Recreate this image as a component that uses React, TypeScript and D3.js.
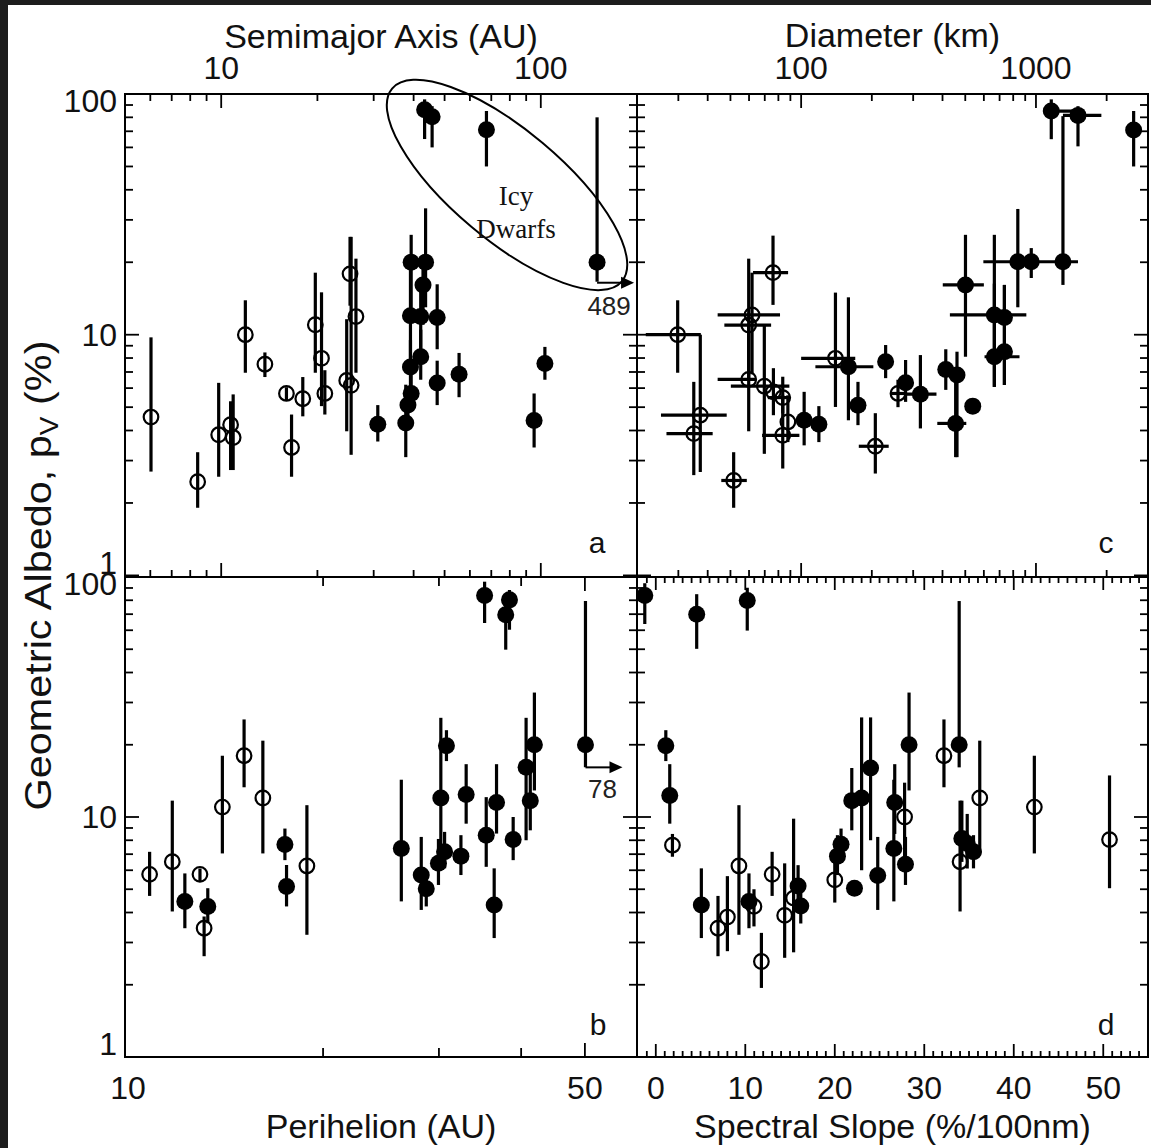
import React, { useEffect } from 'react';
import * as d3 from 'd3';

// ---------- DATA ----------
// Panel a: [semimajor axis (AU), pV (%), pV low, pV high, open(1)/filled(0)]
const panelA: number[][] = [
  [6.03, 4.55, 2.7, 9.75, 1],
  [8.44, 2.45, 1.91, 3.25, 1],
  [9.82, 3.84, 2.57, 6.31, 1],
  [10.7, 4.23, 2.74, 5.29, 1],
  [10.9, 3.74, 2.74, 5.65, 1],
  [11.9, 10.0, 6.95, 13.9, 1],
  [13.7, 7.54, 6.67, 8.44, 1],
  [16.0, 5.7, 5.35, 6.05, 1],
  [16.6, 3.4, 2.57, 4.66, 1],
  [18.0, 5.42, 4.58, 6.67, 1],
  [19.7, 11.0, 6.95, 18.1, 1],
  [20.6, 7.98, 5.05, 15.0, 1],
  [21.1, 5.7, 4.66, 7.12, 1],
  [24.7, 6.46, 3.97, 11.6, 1],
  [25.5, 6.16, 3.17, 25.5, 1],
  [25.3, 17.9, 13.2, 25.5, 1],
  [26.4, 11.9, 6.95, 20.7, 1],
  [30.9, 4.25, 3.6, 5.1, 0],
  [37.8, 4.3, 3.1, 6.2, 0],
  [38.4, 5.1, 4.3, 6.0, 0],
  [39.3, 5.7, 4.8, 7.0, 0],
  [39.1, 7.35, 5.5, 9.5, 0],
  [42.1, 8.1, 6.5, 10.5, 0],
  [39.1, 12.0, 7.5, 20.0, 0],
  [42.1, 11.9, 8.0, 16.5, 0],
  [47.4, 11.8, 8.7, 16.2, 0],
  [39.3, 20.0, 12.0, 26.0, 0],
  [43.6, 20.0, 13.0, 33.5, 0],
  [42.8, 16.1, 11.0, 20.0, 0],
  [47.4, 6.3, 5.1, 7.8, 0],
  [55.5, 6.85, 5.5, 8.4, 0],
  [43.3, 86, 65, 95, 0],
  [45.7, 80.5, 60, 89, 0],
  [67.6, 71, 50, 85, 0],
  [95.3, 4.4, 3.4, 5.7, 0],
  [103, 7.6, 6.5, 8.9, 0],
  [150, 20, 16.6, 80, 0],
];

// Panel b: [perihelion (AU), pV, low, high, open]
const panelB: number[][] = [
  [10.9, 5.77, 4.69, 7.16, 1],
  [11.8, 6.51, 4.04, 11.7, 1],
  [12.33, 4.45, 3.44, 5.82, 0],
  [13.0, 5.77, 5.4, 6.1, 1],
  [13.36, 4.24, 3.61, 5.05, 0],
  [13.19, 3.44, 2.63, 3.85, 1],
  [14.06, 11.0, 7.05, 18.0, 1],
  [15.17, 18.0, 13.3, 25.5, 1],
  [16.2, 12.0, 7.05, 20.8, 1],
  [17.5, 7.68, 6.61, 8.95, 0],
  [17.6, 5.13, 4.24, 6.31, 0],
  [18.9, 6.25, 3.23, 11.2, 1],
  [26.3, 7.39, 4.45, 14.3, 0],
  [28.2, 5.73, 4.1, 8.26, 0],
  [28.7, 5.02, 4.24, 5.73, 0],
  [29.95, 6.41, 5.21, 8.1, 0],
  [30.2, 12.0, 7.0, 25.9, 0],
  [30.8, 19.8, 17.1, 23.0, 0],
  [30.6, 7.16, 6.11, 8.67, 0],
  [32.4, 6.87, 5.73, 8.4, 0],
  [33.0, 12.4, 9.38, 16.6, 0],
  [35.2, 83.7, 64.3, 95.6, 0],
  [35.4, 8.4, 6.2, 12.1, 0],
  [36.4, 4.3, 3.13, 6.11, 0],
  [36.7, 11.5, 8.53, 16.6, 0],
  [37.9, 69.6, 49.8, 76.5, 0],
  [38.4, 80.3, 60.3, 88.3, 0],
  [38.9, 8.05, 6.61, 10.0, 0],
  [40.7, 16.1, 8.0, 25.9, 0],
  [41.3, 11.7, 8.8, 15.6, 0],
  [41.9, 20.0, 12.9, 33.0, 0],
  [50.1, 20.0, 16.1, 79.4, 0],
];

// Panel c: [diameter (km), D low, D high, pV, pV low, pV high, open]
const panelC: number[][] = [
  [29.8, 21.8, 37.4, 10.0, 6.95, 13.9, 1],
  [37.2, 25.3, 48.2, 4.63, 2.69, 10.0, 1],
  [34.9, 26.7, 42.0, 3.88, 2.61, 6.37, 1],
  [51.6, 45.7, 58.7, 2.48, 1.91, 3.25, 1],
  [75.9, 62.4, 88.0, 18.1, 13.3, 25.8, 1],
  [61.8, 44.1, 81.3, 12.08, 6.85, 18.1, 1],
  [59.8, 47.1, 74.5, 10.97, 6.5, 20.7, 1],
  [59.8, 44.1, 64.3, 6.52, 3.97, 11.0, 1],
  [69.7, 50.2, 89.1, 6.11, 3.2, 11.0, 1],
  [76.2, 76.2, 76.2, 5.79, 4.63, 7.26, 1],
  [83.5, 72.1, 89.1, 5.48, 4.71, 6.69, 1],
  [87.8, 87.8, 87.8, 4.34, 3.58, 5.6, 1],
  [83.5, 68.2, 98.3, 3.82, 2.78, 5.6, 1],
  [140, 100, 170, 7.98, 5.01, 14.96, 1],
  [207, 176, 236, 3.44, 2.65, 4.72, 1],
  [258.5, 240, 275, 5.7, 5.0, 6.5, 1],
  [103, 103, 103, 4.41, 3.47, 5.79, 0],
  [119, 119, 119, 4.25, 3.58, 5.05, 0],
  [159, 115, 203, 7.36, 4.41, 14.3, 0],
  [174.6, 174.6, 174.6, 5.09, 4.21, 6.37, 0],
  [229, 229, 229, 7.72, 6.6, 9.06, 0],
  [278.5, 278.5, 278.5, 6.31, 5.26, 7.85, 0],
  [322, 276, 377, 5.66, 4.08, 8.23, 0],
  [413, 413, 413, 7.17, 5.9, 8.7, 0],
  [461, 461, 461, 6.8, 3.1, 8.5, 0],
  [455, 380, 505, 4.28, 3.1, 6.8, 0],
  [501, 401, 600, 16.1, 8.1, 26.0, 0],
  [538, 538, 538, 5.05, 5.05, 5.05, 0],
  [665, 430, 910, 12.08, 6.07, 26.0, 0],
  [734, 734, 734, 11.8, 6.18, 16.1, 0],
  [665, 604, 851, 8.1, 6.07, 16.3, 0],
  [734, 734, 734, 8.5, 6.18, 16.1, 0],
  [837, 837, 837, 20.1, 13.0, 33.3, 0],
  [955, 955, 955, 20.1, 17.2, 22.9, 0],
  [1303, 597, 1510, 20.1, 16.1, 80.9, 0],
  [1162, 1088, 1510, 84.9, 64.9, 95, 0],
  [1510, 1303, 1899, 81.5, 60.6, 89, 0],
  [2606, 2606, 2606, 70.8, 50.0, 85, 0],
];

// Panel d: [spectral slope (%/100nm), pV, low, high, open]
const panelD: number[][] = [
  [-1.23, 83.7, 63.7, 94.2, 0],
  [4.57, 70.0, 50.2, 84.8, 0],
  [10.22, 79.8, 59.8, 90.2, 0],
  [1.12, 19.8, 17.1, 23.0, 0],
  [1.56, 12.3, 9.38, 16.6, 0],
  [5.09, 4.3, 3.13, 6.11, 0],
  [10.41, 4.45, 3.44, 5.82, 0],
  [15.9, 5.16, 4.24, 6.3, 0],
  [16.2, 4.26, 3.6, 5.1, 0],
  [20.3, 6.87, 5.73, 8.4, 0],
  [20.7, 7.7, 6.61, 8.95, 0],
  [22.2, 5.05, 5.05, 5.05, 0],
  [21.9, 11.7, 8.8, 16.0, 0],
  [23.0, 12.0, 6.0, 26.0, 0],
  [24.0, 16.0, 8.0, 26.0, 0],
  [24.8, 5.7, 4.1, 8.26, 0],
  [26.6, 7.39, 4.45, 14.3, 0],
  [26.7, 11.5, 8.5, 16.6, 0],
  [27.9, 6.35, 5.21, 8.26, 0],
  [28.3, 20.0, 12.9, 33.0, 0],
  [33.9, 20.0, 16.1, 79.4, 0],
  [34.2, 8.13, 6.5, 11.7, 0],
  [34.8, 7.75, 6.1, 10.3, 0],
  [35.5, 7.16, 6.11, 8.4, 0],
  [1.86, 7.63, 6.83, 8.5, 1],
  [6.95, 3.44, 2.63, 4.69, 1],
  [8.0, 3.83, 2.76, 5.67, 1],
  [9.29, 6.25, 3.23, 11.2, 1],
  [10.97, 4.24, 3.5, 5.0, 1],
  [11.8, 2.5, 1.94, 3.29, 1],
  [13.0, 5.77, 4.69, 7.16, 1],
  [14.4, 3.89, 2.59, 6.41, 1],
  [15.4, 4.59, 2.73, 9.84, 1],
  [20.0, 5.47, 4.4, 6.5, 1],
  [27.8, 10.0, 6.2, 13.9, 1],
  [32.2, 18.0, 13.3, 25.5, 1],
  [34.0, 6.51, 4.04, 11.7, 1],
  [36.2, 12.0, 7.05, 20.8, 1],
  [42.3, 11.0, 7.05, 18.0, 1],
  [50.7, 8.05, 5.05, 14.9, 1],
];

// ---------- TICKS ----------
const albedoMajor = [1, 10, 100];
const albedoMinor = [2, 3, 4, 5, 6, 7, 8, 9, 20, 30, 40, 50, 60, 70, 80, 90];
const albedoLabels = ['1', '10', '100'];
const semiMajorTicks = [10, 100];
const semiMinorTicks = [6, 7, 8, 9, 20, 30, 40, 50, 60, 70, 80, 90];
const diamMajorTicks = [100, 1000];
const diamMinorTicks = [30, 40, 50, 60, 70, 80, 90, 200, 300, 400, 500, 600, 700, 800, 900, 2000];
const periMajorTicks = [50];
const periMinorTicks = [20, 30, 40];
const periLabels = [10, 50];
const slopeMajorTicks = [0, 10, 20, 30, 40, 50];
const slopeMinorTicks = d3.range(-1, 55).filter((v) => v % 10 !== 0);

const offScaleA = { x: 150, y: 16.6, label: '489' };
const offScaleB = { x: 50.1, y: 16.1, label: '78' };
const icyCenter = { a: 78.4, pv: 41.9 };

const FONT = "'Liberation Sans', Arial, Helvetica, sans-serif";
const INK = '#000';

export default function App() {
  useEffect(() => {
    document.body.style.margin = '0';
    document.body.style.background = '#1d1d1d';
  }, []);

  const L = 125, M = 637, R = 1148, T = 94, MY = 577, B = 1057;

  const xA = d3.scaleLog().domain([5, 200]).range([L, M]);
  const xB = d3.scaleLog().domain([10, 60]).range([L, M]);
  const xC = d3.scaleLog().domain([20, 3000]).range([M, R]);
  const xD = d3.scaleLinear().domain([-2.1, 55]).range([M, R]);
  const yTop = d3.scaleLog().domain([0.985, 100]).range([MY, T]);
  const yBot = d3.scaleLog().domain([1, 100]).range([B, MY]);

  const ebW = 3.2;
  const rF = 8.5, rO = 7.3;

  const yTicks = (y: any, key: string) => {
    const out: any[] = [];
    const add = (v: number, len: number) => {
      const yy = y(v);
      [[L, 1], [M, -1], [M, 1], [R, -1]].forEach(([x0, dir], i) => {
        out.push(<line key={`${key}-${v}-${i}`} x1={x0} x2={x0 + dir * len} y1={yy} y2={yy} stroke={INK} strokeWidth={1.8} />);
      });
    };
    albedoMajor.forEach((v) => add(v, 14));
    albedoMinor.forEach((v) => add(v, 8));
    return out;
  };

  const xTicks = (x: any, vals: number[], len: number, yEdges: [number, number][], key: string) =>
    vals.flatMap((v) =>
      yEdges.map(([y0, dir], i) => (
        <line key={`${key}-${v}-${i}`} x1={x(v)} x2={x(v)} y1={y0} y2={y0 + dir * len} stroke={INK} strokeWidth={1.8} />
      ))
    );

  const errV = (x: number, y1: number, y2: number, k: string) => (
    <line key={k} x1={x} x2={x} y1={y1} y2={y2} stroke={INK} strokeWidth={ebW} />
  );
  const errH = (y: number, x1: number, x2: number, k: string) => (
    <line key={k} x1={x1} x2={x2} y1={y} y2={y} stroke={INK} strokeWidth={ebW} />
  );
  const sym = (x: number, y: number, open: number, k: string) =>
    open ? (
      <circle key={k} cx={x} cy={y} r={rO} fill="none" stroke={INK} strokeWidth={2.2} />
    ) : (
      <circle key={k} cx={x} cy={y} r={rF} fill={INK} />
    );

  const simplePanel = (data: number[][], x: any, y: any, key: string) => {
    const bars = data.map((d, i) => errV(x(d[0]), y(d[2]), y(d[3]), `${key}-e${i}`));
    const opens = data.filter((d) => d[4] === 1).map((d, i) => sym(x(d[0]), y(d[1]), 1, `${key}-o${i}`));
    const fills = data.filter((d) => d[4] === 0).map((d, i) => sym(x(d[0]), y(d[1]), 0, `${key}-f${i}`));
    return [...bars, ...opens, ...fills];
  };

  const panelCMarks = () => {
    const bars: any[] = [];
    panelC.forEach((d, i) => {
      bars.push(errV(xC(d[0]), yTop(d[4]), yTop(d[5]), `c-ev${i}`));
      if (d[1] !== d[2]) bars.push(errH(yTop(d[3]), xC(d[1]), xC(d[2]), `c-eh${i}`));
    });
    const opens = panelC.filter((d) => d[6] === 1).map((d, i) => sym(xC(d[0]), yTop(d[3]), 1, `c-o${i}`));
    const fills = panelC.filter((d) => d[6] === 0).map((d, i) => sym(xC(d[0]), yTop(d[3]), 0, `c-f${i}`));
    return [...bars, ...opens, ...fills];
  };

  const arrow = (x0: number, y0: number, label: string, labX: number, labY: number, k: string) => (
    <g key={k}>
      <line x1={x0} x2={x0 + 26} y1={y0} y2={y0} stroke={INK} strokeWidth={2} />
      <polygon points={`${x0 + 24},${y0 - 6} ${x0 + 37},${y0} ${x0 + 24},${y0 + 6}`} fill={INK} />
      <text x={labX} y={labY} fontFamily={FONT} fontSize={26} textAnchor="middle" fill="#222">{label}</text>
    </g>
  );

  const ax = xA(offScaleA.x), ay = yTop(offScaleA.y);
  const bx = xB(offScaleB.x), by = yBot(offScaleB.y);
  const ecx = xA(icyCenter.a), ecy = yTop(icyCenter.pv);

  const yLabelOffsets = [-13, 0, 7];
  const tickFont = 32;

  return (
    <svg width={1151} height={1148} style={{ position: 'absolute', left: 0, top: 0, display: 'block' }}>
      <rect x={0} y={0} width={1151} height={1148} fill="#1d1d1d" />
      <rect x={8} y={5} width={1143} height={1143} fill="#fff" />

      {/* frame */}
      <rect x={L} y={T} width={R - L} height={B - T} fill="none" stroke={INK} strokeWidth={2} />
      <line x1={M} x2={M} y1={T} y2={B} stroke={INK} strokeWidth={2} />
      <line x1={L} x2={R} y1={MY} y2={MY} stroke={INK} strokeWidth={2} />

      {/* y ticks */}
      {yTicks(yTop, 'yt')}
      {yTicks(yBot, 'yb')}

      {/* x ticks */}
      {xTicks(xA, semiMajorTicks, 14, [[T, 1], [MY, -1]], 'sa')}
      {xTicks(xA, semiMinorTicks, 7, [[T, 1], [MY, -1]], 'si')}
      {xTicks(xC, diamMajorTicks, 14, [[T, 1], [MY, -1]], 'da')}
      {xTicks(xC, diamMinorTicks, 7, [[T, 1], [MY, -1]], 'di')}
      {xTicks(xB, periMajorTicks, 14, [[MY, 1], [B, -1]], 'pa')}
      {xTicks(xB, periMinorTicks, 9, [[MY, 1], [B, -1]], 'pi')}
      {xTicks(xD, slopeMajorTicks, 13, [[MY, 1], [B, -1]], 'ssa')}
      {xTicks(xD, slopeMinorTicks, 6, [[MY, 1], [B, -1]], 'ssi')}

      {/* y tick labels */}
      {albedoMajor.map((v, i) => (
        <text key={`lt${v}`} x={117} y={yTop(v) + yLabelOffsets[i]} dy="0.35em" textAnchor="end" fontFamily={FONT} fontSize={tickFont} fill="#111">{albedoLabels[i]}</text>
      ))}
      {albedoMajor.map((v, i) => (
        <text key={`lb${v}`} x={117} y={yBot(v) + yLabelOffsets[i]} dy="0.35em" textAnchor="end" fontFamily={FONT} fontSize={tickFont} fill="#111">{albedoLabels[i]}</text>
      ))}

      {/* top tick labels */}
      {semiMajorTicks.map((v) => (
        <text key={`st${v}`} x={xA(v)} y={79} textAnchor="middle" fontFamily={FONT} fontSize={tickFont} fill="#111">{v}</text>
      ))}
      {diamMajorTicks.map((v) => (
        <text key={`dt${v}`} x={xC(v)} y={79} textAnchor="middle" fontFamily={FONT} fontSize={tickFont} fill="#111">{v}</text>
      ))}
      <text x={xA(Math.sqrt(5 * 200))} y={48} textAnchor="middle" fontFamily={FONT} fontSize={34} fill="#111">Semimajor Axis (AU)</text>
      <text x={xC(Math.sqrt(20 * 3000))} y={47} textAnchor="middle" fontFamily={FONT} fontSize={34} fill="#111">Diameter (km)</text>

      {/* bottom tick labels */}
      {periLabels.map((v) => (
        <text key={`pb${v}`} x={xB(v) + (v === 10 ? 3 : 0)} y={1099} textAnchor="middle" fontFamily={FONT} fontSize={tickFont} fill="#111">{v}</text>
      ))}
      {slopeMajorTicks.map((v) => (
        <text key={`sb${v}`} x={xD(v)} y={1099} textAnchor="middle" fontFamily={FONT} fontSize={tickFont} fill="#111">{v}</text>
      ))}
      <text x={(L + M) / 2} y={1138} textAnchor="middle" fontFamily={FONT} fontSize={34} fill="#111">Perihelion (AU)</text>
      <text x={(M + R) / 2} y={1138} textAnchor="middle" fontFamily={FONT} fontSize={34} fill="#111">Spectral Slope (%/100nm)</text>

      {/* y title */}
      <text transform={`translate(51, ${(T + B) / 2}) rotate(-90) scale(1.12, 1)`} textAnchor="middle" fontFamily={FONT} fontSize={37} fill="#111">
        Geometric Albedo, p<tspan fontSize={25} dy={7}>V</tspan><tspan dy={-7}> (%)</tspan>
      </text>

      {/* data */}
      {simplePanel(panelA, xA, yTop, 'a')}
      {simplePanel(panelB, xB, yBot, 'b')}
      {panelCMarks()}
      {simplePanel(panelD, xD, yBot, 'd')}

      {/* off-scale arrows */}
      {arrow(ax, ay + 1, offScaleA.label, ax + 12, ay + 33, 'arrA')}
      {arrow(bx, by, offScaleB.label, bx + 17, by + 31, 'arrB')}

      {/* Icy dwarfs annotation */}
      <ellipse cx={ecx} cy={ecy} rx={150} ry={55} transform={`rotate(40, ${ecx}, ${ecy})`} fill="none" stroke={INK} strokeWidth={2} />
      <text x={ecx + 9} y={ecy + 20} textAnchor="middle" fontFamily="'Liberation Serif', 'Times New Roman', serif" fontSize={27} fill="#111">Icy</text>
      <text x={ecx + 9} y={ecy + 53} textAnchor="middle" fontFamily="'Liberation Serif', 'Times New Roman', serif" fontSize={27} fill="#111">Dwarfs</text>

      {/* panel letters */}
      <text x={597} y={553} textAnchor="middle" fontFamily={FONT} fontSize={30} fill="#111">a</text>
      <text x={598} y={1035} textAnchor="middle" fontFamily={FONT} fontSize={30} fill="#111">b</text>
      <text x={1106} y={553} textAnchor="middle" fontFamily={FONT} fontSize={30} fill="#111">c</text>
      <text x={1106} y={1035} textAnchor="middle" fontFamily={FONT} fontSize={30} fill="#111">d</text>
    </svg>
  );
}
